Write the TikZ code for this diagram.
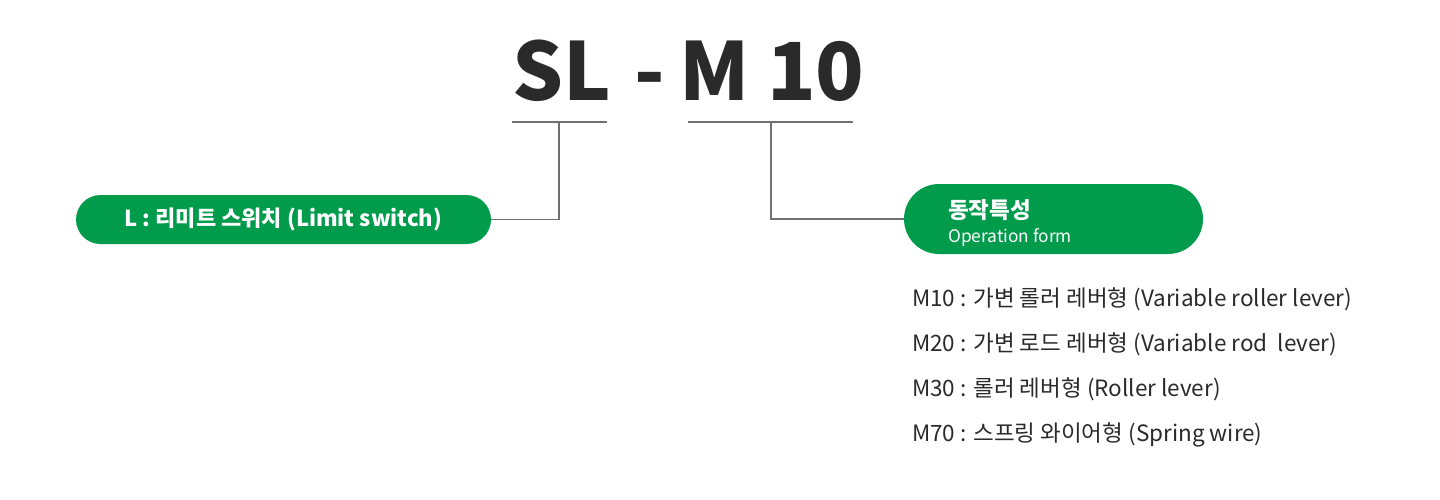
\documentclass[tikz,border=0pt]{standalone}
\usepackage{fontspec}
\setmainfont{Noto Sans CJK KR}
\usepackage{xcolor}
\usetikzlibrary{positioning}
\definecolor{brandgreen}{HTML}{009B4B}
\definecolor{ink}{HTML}{2A2A2A}
\definecolor{rulegray}{HTML}{707070}

\begin{document}
\begin{tikzpicture}[
  x=1pt, y=-1pt,
  title/.style={font=\fontsize{80}{80}\selectfont\bfseries, text=ink,
                inner sep=0pt, anchor=base west},
  pill/.style={fill=brandgreen, text=white, inner sep=0pt, align=left},
  item/.style={font=\fontsize{22.5}{22.5}\selectfont, text=ink,
               inner sep=0pt, anchor=base west},
  ln/.style={draw=rulegray, line width=1.2pt}
]
\useasboundingbox (0,0) rectangle (1440,499);

% code letters
\node[title] (sl)   at (512,100) {SL};
\node[title] (dash) at (634,100) {-};
\node[title] (m)    at (679,100) {M};
\node[title] (ten)  at (767,100) {10};

% underlines
\coordinate (u1a) at (512,122); \coordinate (u1b) at (607,122);
\coordinate (u2a) at (688,122); \coordinate (u2b) at (853,122);
\draw[ln] (u1a) -- (u1b);
\draw[ln] (u2a) -- (u2b);

% green labels
\node[pill, minimum width=415pt, minimum height=49pt, rounded corners=24.5pt,
      font=\fontsize{22}{22}\selectfont\bfseries] (lim) at (283.5,219.5)
  {L : 리미트 스위치 (Limit switch)};
\node[pill, minimum width=299pt, minimum height=70pt, rounded corners=35pt]
  (op) at (1053.5,219) {};
\node[anchor=base west, inner sep=0pt, text=white,
      font=\fontsize{22.5}{22.5}\selectfont\bfseries] (opk) at (948,218) {동작특성};
\node[anchor=base west, inner sep=0pt, text=white,
      font=\fontsize{17.3}{17.3}\selectfont] (ope) at (948,242) {Operation form};

% connectors
\draw[ln] (559,122) |- (lim.east);
\draw[ln] (771,122) |- (op.west);

% options
\node[item] (m10) at (912,306) {M10 : 가변 롤러 레버형 (Variable roller lever)};
\node[item] (m20) at (912,351) {M20 : 가변 로드 레버형 (Variable rod \ lever)};
\node[item] (m30) at (912,396) {M30 : 롤러 레버형 (Roller lever)};
\node[item] (m70) at (912,441) {M70 : 스프링 와이어형 (Spring wire)};
\end{tikzpicture}
\end{document}
